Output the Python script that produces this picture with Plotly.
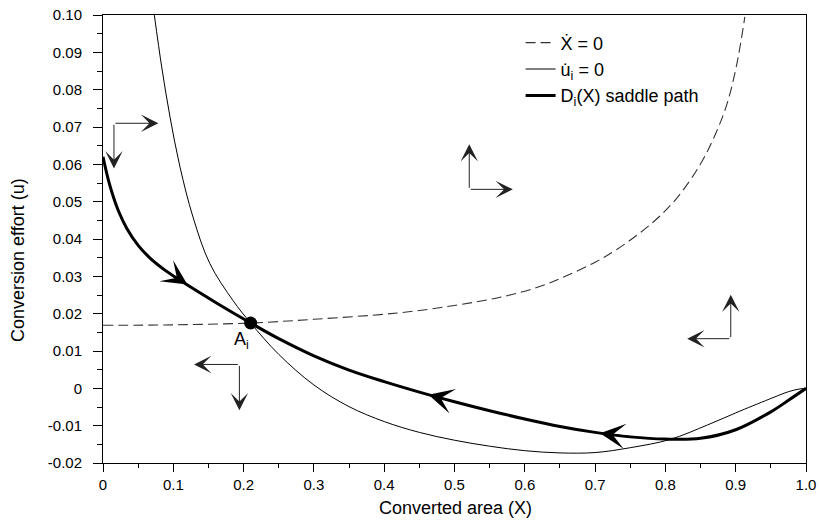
import plotly.graph_objects as go

# ---- data ----
xdot_X = [0.0, 0.1, 0.21, 0.3, 0.42, 0.5, 0.565, 0.62, 0.66, 0.7, 0.73, 0.78, 0.816, 0.849, 0.87, 0.887, 0.901, 0.913]
xdot_u = [0.0169, 0.0170, 0.0175, 0.0185, 0.0202, 0.0222, 0.0244, 0.0272, 0.0302, 0.0338, 0.0371, 0.0441, 0.0509, 0.0598, 0.0676, 0.0758, 0.0863, 0.0995]

udot_X = [0.073, 0.0835, 0.0953, 0.1095, 0.128, 0.152, 0.185, 0.21, 0.25, 0.3, 0.35, 0.4, 0.45, 0.5, 0.55, 0.6, 0.65, 0.7, 0.75, 0.8065, 0.86, 0.906, 0.953, 0.975, 0.99, 1.0]
udot_u = [0.100, 0.0861, 0.0727, 0.0593, 0.0459, 0.0334, 0.0235, 0.0175, 0.0091, 0.0009, -0.0049, -0.0089, -0.0118, -0.0139, -0.0155, -0.0167, -0.0173, -0.0172, -0.0159, -0.0137, -0.0098, -0.0061, -0.0025, -0.0009, -0.0002, 0.0]

sad_X = [0.0, 0.0075, 0.0147, 0.022, 0.0337, 0.05, 0.0669, 0.09, 0.114, 0.162, 0.21, 0.25, 0.3, 0.35, 0.4, 0.45, 0.5, 0.55, 0.6, 0.65, 0.7, 0.75, 0.8, 0.85, 0.9, 0.95, 0.975, 1.0]
sad_u = [0.062, 0.0559, 0.0513, 0.0475, 0.0429, 0.0383, 0.0349, 0.0314, 0.0284, 0.0228, 0.0175, 0.0133, 0.0087, 0.0049, 0.0018, -0.0010, -0.0036, -0.0060, -0.0082, -0.0102, -0.0118, -0.0130, -0.0136, -0.0134, -0.0111, -0.0063, -0.0032, 0.0]

# arrows on saddle path: (tail X, tail u, tip X, tip u)
path_arrows = [
    (0.085, 0.0321, 0.120, 0.0278),
    (0.510, -0.0041, 0.463, -0.0017),
    (0.755, -0.0131, 0.707, -0.0120),
]

# phase direction arrows: corner (X,u), horizontal tip X, vertical tip u
phase_arrows = [
    (0.0156, 0.0710, 0.0787, 0.0589),
    (0.521, 0.0533, 0.583, 0.0654),
    (0.893, 0.0133, 0.831, 0.0251),
    (0.194, 0.0064, 0.1295, -0.0059),
]

A_X, A_u = 0.21, 0.0175
A_label_X, A_label_u = 0.197, 0.0128

x_ticks = [0, 0.1, 0.2, 0.3, 0.4, 0.5, 0.6, 0.7, 0.8, 0.9, 1.0]
x_ticktext = ["0", "0.1", "0.2", "0.3", "0.4", "0.5", "0.6", "0.7", "0.8", "0.9", "1.0"]
y_ticks = [0.10, 0.09, 0.08, 0.07, 0.06, 0.05, 0.04, 0.03, 0.02, 0.01, 0, -0.01, -0.02]
y_ticktext = ["0.10", "0.09", "0.08", "0.07", "0.06", "0.05", "0.04", "0.03", "0.02", "0.01", "0", "-0.01", "-0.02"]

FONT = "Liberation Sans, Arial, Helvetica, sans-serif"

fig = go.Figure()
fig.add_trace(go.Scatter(x=xdot_X, y=xdot_u, mode="lines", name="Ẋ = 0",
                         line=dict(color="#333333", width=1.1, dash="10px,5px", shape="spline", smoothing=1.0)))
fig.add_trace(go.Scatter(x=udot_X, y=udot_u, mode="lines", name="u̇<sub>i</sub> = 0",
                         line=dict(color="black", width=1, shape="spline", smoothing=1.0)))
fig.add_trace(go.Scatter(x=sad_X, y=sad_u, mode="lines", name="D<sub>i</sub>(X) saddle path",
                         line=dict(color="black", width=3, shape="spline", smoothing=1.0)))
fig.add_trace(go.Scatter(x=[A_X], y=[A_u], mode="markers", showlegend=False,
                         marker=dict(color="black", size=13)))

ann = []
for tx, tu, hx, hu in path_arrows:
    ann.append(dict(x=hx, y=hu, ax=tx, ay=tu, xref="x", yref="y", axref="x", ayref="y",
                    text="", showarrow=True, arrowhead=3, arrowsize=2.8, arrowwidth=1.5,
                    arrowcolor="black"))
for cx, cu, hx, vu in phase_arrows:
    ann.append(dict(x=hx, y=cu, ax=cx, ay=cu, xref="x", yref="y", axref="x", ayref="y",
                    text="", showarrow=True, arrowhead=3, arrowsize=2.9, arrowwidth=1,
                    arrowcolor="#222222"))
    ann.append(dict(x=cx, y=vu, ax=cx, ay=cu, xref="x", yref="y", axref="x", ayref="y",
                    text="", showarrow=True, arrowhead=3, arrowsize=2.9, arrowwidth=1,
                    arrowcolor="#222222"))
ann.append(dict(x=A_label_X, y=A_label_u, xref="x", yref="y", text="A<sub>i</sub>",
                showarrow=False, font=dict(size=18, color="black", family=FONT)))
# axis titles placed as in the reference
ann.append(dict(x=-0.121, y=0.453, xref="paper", yref="paper", text="Conversion effort (u)",
                textangle=-90, showarrow=False, xanchor="center", yanchor="middle",
                font=dict(size=18, color="black", family=FONT)))
ann.append(dict(x=0.502, y=-0.100, xref="paper", yref="paper", text="Converted area (X)",
                showarrow=False, xanchor="center", yanchor="middle",
                font=dict(size=18, color="black", family=FONT)))

fig.update_layout(
    width=819, height=524,
    margin=dict(l=103, r=13, t=15, b=61, autoexpand=False),
    paper_bgcolor="white", plot_bgcolor="white",
    font=dict(family=FONT, color="black", size=15),
    annotations=ann,
    legend=dict(x=0.594, y=0.979, xanchor="left", yanchor="top",
                bgcolor="rgba(0,0,0,0)", font=dict(size=18, family=FONT),
                tracegroupgap=0),
)
fig.update_xaxes(range=[0, 1.0], tickvals=x_ticks, ticktext=x_ticktext, automargin=False,
                 showgrid=False, zeroline=False, showline=True, linecolor="black", linewidth=1,
                 mirror=True, ticks="outside", ticklen=8, tickcolor="black",
                 minor=dict(dtick=0.05, ticks="outside", ticklen=4, tickcolor="black"),
                 tickfont=dict(size=15))
fig.update_yaxes(range=[-0.02, 0.10], tickvals=y_ticks, ticktext=y_ticktext, automargin=False,
                 showgrid=False, zeroline=False, showline=True, linecolor="black", linewidth=1,
                 mirror=True, ticks="outside", ticklen=9, tickcolor="black",
                 minor=dict(dtick=0.005, ticks="outside", ticklen=5, tickcolor="black"),
                 ticklabelstandoff=8,
                 tickfont=dict(size=15))

fig.write_html("out.html")
